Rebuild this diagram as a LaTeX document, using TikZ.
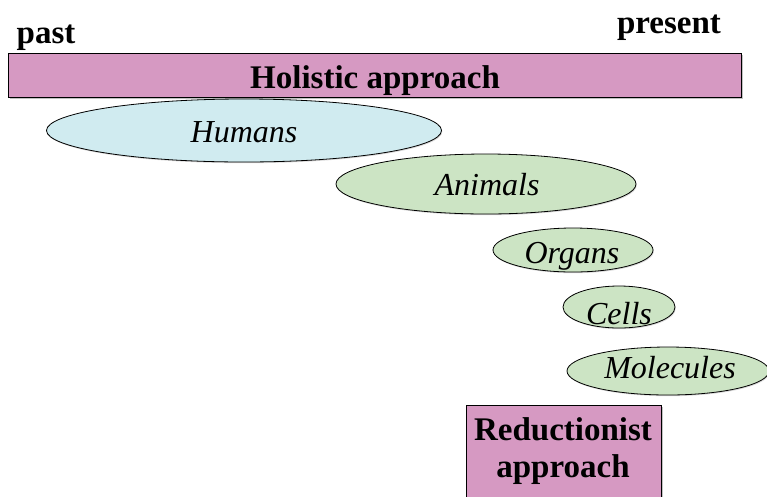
\documentclass[tikz,border=0pt]{standalone}
\usepackage{fontspec}
\setmainfont{Liberation Serif}
\usetikzlibrary{shapes.geometric,shadows}
\definecolor{holpink}{RGB}{214,153,194}
\definecolor{humblue}{RGB}{208,235,240}
\definecolor{lvlgreen}{RGB}{204,228,196}

\begin{document}
\begin{tikzpicture}[x=1pt,y=-1pt,
  bar/.style={draw,fill=holpink,line width=1pt,inner sep=0pt,
    drop shadow={shadow xshift=1.5pt,shadow yshift=-1.5pt,fill=black!40,opacity=.6}},
  lvl/.style={draw,ellipse,inner sep=0pt,line width=.8pt,fill=lvlgreen,
    drop shadow={shadow xshift=.8pt,shadow yshift=-1.2pt,fill=black!30,opacity=.5}},
  lbl/.style={anchor=base,inner sep=0pt,font=\fontsize{32}{34}\selectfont\itshape},
  hdr/.style={anchor=base,inner sep=0pt,font=\fontsize{33}{36}\selectfont\bfseries}]
\useasboundingbox (0,0) rectangle (767,496);
% time axis
\node[hdr] (past) at (46,43) {past};
\node[hdr] (present) at (669,33) {present};
\node[bar,minimum width=733pt,minimum height=44pt] (hol) at (374.5,75) {};
\node[hdr] (holtxt) at (375,88) {Holistic approach};
% levels
\node[lvl,fill=humblue,minimum width=395pt,minimum height=63pt] (hum) at (244,130.5) {};
\node[lbl] (humtxt) at (244,142) {Humans};
\node[lvl,minimum width=300pt,minimum height=60pt] (ani) at (486,184) {};
\node[lbl] (anitxt) at (487,195) {Animals};
\node[lvl,minimum width=160pt,minimum height=44pt] (org) at (573,250) {};
\node[lbl] (orgtxt) at (572,263) {Organs};
\node[lvl,minimum width=112pt,minimum height=42pt] (cel) at (619,307) {};
\node[lbl] (celtxt) at (619,324) {Cells};
\node[lvl,minimum width=202pt,minimum height=48pt] (mol) at (668,371) {};
\node[lbl] (moltxt) at (670,378) {Molecules};
% reductionist end
\node[bar,minimum width=195pt,minimum height=100pt] (red) at (563.5,455) {};
\node[hdr] (redtxt) at (563,440) {Reductionist};
\node[hdr] (redtxtb) at (563,477) {approach};
\end{tikzpicture}
\end{document}
